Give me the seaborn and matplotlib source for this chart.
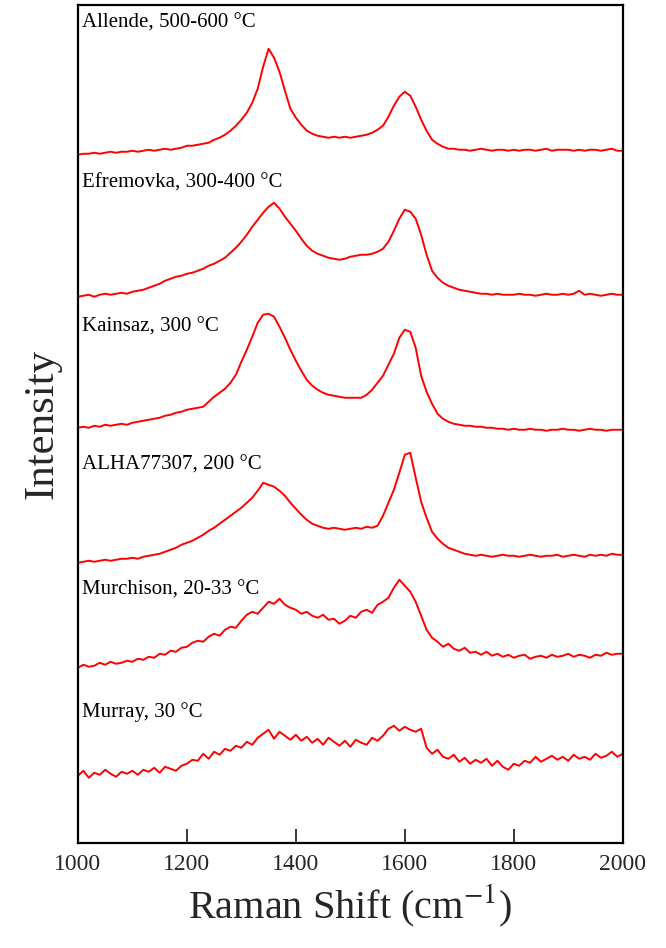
import numpy as np
import pandas as pd
import matplotlib
matplotlib.use("Agg")
import matplotlib.pyplot as plt
import seaborn as sns

# Raman shift grid (cm-1), one value every 10 cm-1
shift = list(range(1000, 2001, 10))

# spectra (arbitrary intensity units, relative to each trace start)
allende = [0, 1, 1, 2, 1, 2, 3, 2, 3, 3,
           4, 3, 4, 5, 4, 5, 6, 5, 6, 7,
           9, 9, 10, 11, 12, 15, 17, 20, 24, 29,
           35, 42, 52, 66, 88, 106, 97, 83, 64, 46,
           37, 30, 24, 21, 19, 18, 17, 18, 17, 18,
           17, 18, 19, 20, 22, 25, 29, 38, 49, 58,
           63, 59, 48, 35, 24, 15, 11, 8, 6, 6,
           5, 5, 4, 5, 6, 5, 4, 5, 5, 4,
           5, 4, 5, 5, 4, 5, 6, 4, 5, 5,
           5, 4, 5, 4, 5, 5, 4, 5, 6, 4,
           4]
efremovka = [0, 1, 2, 0, 2, 3, 2, 3, 4, 3,
             5, 6, 7, 9, 11, 13, 16, 18, 20, 21,
             23, 24, 26, 28, 31, 33, 36, 39, 44, 49,
             55, 62, 70, 77, 84, 90, 94, 88, 80, 73,
             66, 58, 51, 46, 43, 41, 39, 38, 37, 38,
             40, 41, 42, 42, 43, 45, 48, 55, 66, 78,
             87, 85, 78, 62, 42, 26, 19, 14, 11, 9,
             7, 6, 5, 4, 3, 3, 2, 3, 2, 2,
             2, 3, 2, 2, 1, 2, 3, 2, 2, 3,
             2, 3, 6, 2, 3, 2, 1, 2, 3, 2,
             2]
kainsaz = [0, 1, 0, 2, 1, 3, 2, 3, 4, 3,
           5, 6, 7, 8, 9, 10, 12, 13, 15, 16,
           18, 19, 20, 21, 26, 31, 35, 39, 45, 53,
           66, 78, 91, 105, 113, 114, 111, 101, 90, 78,
           67, 57, 48, 42, 38, 35, 33, 32, 31, 30,
           30, 30, 30, 33, 38, 45, 52, 63, 74, 90,
           98, 96, 80, 52, 36, 24, 14, 9, 6, 4,
           3, 2, 2, 1, 1, 0, 0, -1, -1, -2,
           -1, -2, -2, -1, -2, -2, -3, -2, -2, -1,
           -2, -2, -3, -2, -1, -2, -2, -3, -2, -2,
           -2]
alha77307 = [0, 1, 2, 1, 2, 3, 2, 3, 4, 4,
             5, 4, 6, 7, 8, 9, 11, 13, 15, 18,
             20, 22, 25, 28, 32, 35, 39, 43, 47, 51,
             55, 60, 65, 72, 80, 78, 76, 72, 67, 60,
             54, 48, 43, 39, 37, 35, 34, 35, 34, 33,
             34, 35, 34, 36, 35, 37, 47, 60, 73, 90,
             108, 110, 85, 61, 45, 31, 24, 19, 15, 13,
             11, 9, 8, 7, 8, 7, 6, 7, 8, 7,
             7, 6, 7, 8, 7, 6, 7, 7, 8, 6,
             7, 8, 7, 6, 8, 7, 8, 7, 9, 8,
             8]
murchison = [0, 3, 1, 2, 5, 3, 6, 4, 5, 7,
             6, 9, 8, 11, 10, 14, 13, 17, 16, 20,
             21, 25, 27, 26, 31, 34, 32, 38, 41, 40,
             47, 53, 56, 54, 60, 66, 64, 69, 63, 60,
             58, 54, 56, 52, 50, 53, 48, 49, 44, 47,
             52, 50, 56, 58, 55, 63, 66, 70, 80, 88,
             82, 76, 66, 52, 38, 30, 26, 21, 24, 19,
             17, 20, 15, 16, 13, 16, 12, 14, 11, 13,
             10, 12, 13, 9, 11, 12, 10, 13, 11, 12,
             14, 11, 13, 12, 10, 13, 12, 15, 13, 14,
             14]
murray = [0, 5, -2, 3, 1, 6, 2, -1, 4, 2,
          5, 1, 6, 4, 8, 3, 9, 7, 5, 10,
          12, 16, 15, 22, 17, 24, 21, 27, 25, 30,
          28, 34, 31, 38, 42, 46, 37, 44, 40, 36,
          41, 35, 39, 33, 37, 31, 38, 34, 30, 35,
          29, 36, 33, 31, 38, 35, 40, 47, 50, 45,
          49, 46, 44, 47, 28, 22, 26, 19, 17, 21,
          14, 18, 12, 16, 13, 17, 10, 15, 9, 6,
          12, 10, 15, 13, 19, 14, 17, 20, 16, 19,
          15, 21, 17, 19, 16, 22, 18, 20, 24, 19,
          22]

labels = ["Allende, 500-600 °C", "Efremovka, 300-400 °C", "Kainsaz, 300 °C",
          "ALHA77307, 200 °C", "Murchison, 20-33 °C", "Murray, 30 °C"]
spectra = [allende, efremovka, kainsaz, alha77307, murchison, murray]
# vertical stacking offset of each trace
offsets = [688, 546, 415, 280, 175, 67]
label_y = [820, 660, 516, 378, 253, 131]

sns.set_style("ticks")
plt.rcParams["font.family"] = ["Liberation Serif", "DejaVu Serif"]
plt.rcParams["mathtext.fontset"] = "stix"

fig = plt.figure(figsize=(6.66, 9.48), dpi=100)
ax = fig.add_axes([0.117, 0.111, 0.818, 0.884])

for name, vals, off, ly in zip(labels, spectra, offsets, label_y):
    df = pd.DataFrame({"shift": shift, "intensity": np.array(vals) + off})
    sns.lineplot(data=df, x="shift", y="intensity", color="#ff0000", lw=1.4, ax=ax)
    ax.text(1007, ly, name, fontsize=15, va="center", ha="left", color="black")

ax.set_xlim(1000, 2000)
ax.set_ylim(0, 838)
ax.set_xticks([1000, 1200, 1400, 1600, 1800, 2000])
ax.set_yticks([])
ax.tick_params(axis="x", direction="in", length=10, width=1.3, labelsize=17, pad=8)
for s in ax.spines.values():
    s.set_linewidth(1.6)
    s.set_color("black")
ax.set_xlabel(r"Raman Shift (cm$^{-1}$)", fontsize=29, labelpad=6)
ax.set_ylabel("Intensity", fontsize=31, labelpad=12)

fig.savefig("out.png", dpi=100)
